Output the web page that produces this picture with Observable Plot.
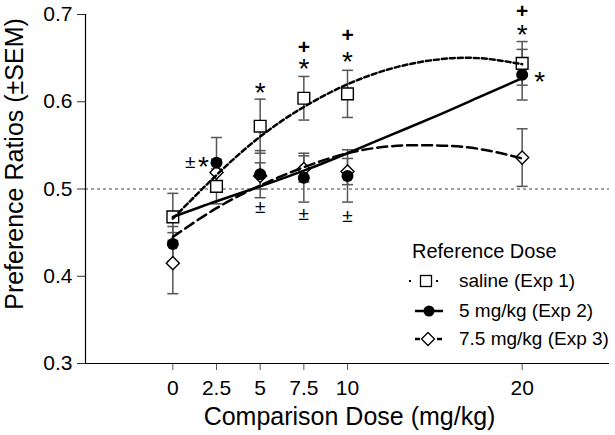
<!DOCTYPE html>
<html>
<head>
<meta charset="utf-8">
<script src="https://cdn.jsdelivr.net/npm/d3@7"></script>
<script src="https://cdn.jsdelivr.net/npm/@observablehq/plot@0.6"></script>
<style>
  body { margin: 0; background: #fff; font-family: "Liberation Sans", Arial, Helvetica, sans-serif; }
  #wrap { position: relative; width: 615px; height: 435px; overflow: hidden; }
  .lg { position: absolute; color: #000; white-space: nowrap; }
  .lgt { font-size: 20px; line-height: 20px; }
  .lgr { font-size: 19px; line-height: 19px; }
  .sw { position: absolute; }
</style>
</head>
<body>
<div id="wrap"></div>
<script>
// ---- data ----
const doses = [0, 2.5, 5, 7.5, 10, 20];
const salineMean = [0.468, 0.503, 0.572, 0.604, 0.609, 0.644];
const salineSem  = [0.027, 0.020, 0.031, 0.025, 0.027, 0.025];
const fiveMean   = [0.437, 0.530, 0.517, 0.513, 0.515, 0.631];
const fiveSem    = [0.020, 0.029, 0.027, 0.028, 0.030, 0.029];
const sevenMean  = [0.415, 0.519, 0.515, 0.523, 0.520, 0.536];
const sevenSem   = [0.035, 0.015, 0.015, 0.015, 0.015, 0.033];

// fitted curves
const fitDoses  = [0, 2.5, 5, 7.5, 10, 12.5, 15, 17.5, 20];
const salineFit = [0.466, 0.516, 0.560, 0.594, 0.620, 0.638, 0.648, 0.650, 0.643];
const fiveFit   = [0.468, 0.486, 0.503, 0.521, 0.541, 0.562, 0.583, 0.605, 0.627];
const sevenFit  = [0.445, 0.478, 0.504, 0.525, 0.541, 0.549, 0.550, 0.546, 0.535];

// significance annotations
const starX = [5, 7.5, 10, 20, 21.0, 1.75];
const starY = [0.618, 0.645, 0.654, 0.685, 0.631, 0.533];
const plusX = [7.5, 10, 20];
const plusY = [0.662, 0.676, 0.704];
const pmX = [1.0, 5, 7.5, 10];
const pmY = [0.531, 0.479, 0.471, 0.469];

const xTicks = [0, 2.5, 5, 7.5, 10, 20];
const yTicks = [0.3, 0.4, 0.5, 0.6, 0.7];
const seriesNames = ["saline (Exp 1)", "5 mg/kg (Exp 2)", "7.5 mg/kg (Exp 3)"];
const xLabel = "Comparison Dose (mg/kg)";
const yLabel = "Preference Ratios (±SEM)";
const legendTitle = "Reference Dose";

// ---- build tables ----
const means = [salineMean, fiveMean, sevenMean];
const sems = [salineSem, fiveSem, sevenSem];
const fits = [salineFit, fiveFit, sevenFit];
const points = seriesNames.flatMap((s, k) => doses.map((d, i) => ({
  series: s, dose: d, mean: means[k][i], lo: means[k][i] - sems[k][i], hi: means[k][i] + sems[k][i]
})));
const fitRows = seriesNames.flatMap((s, k) => fitDoses.map((d, i) => ({series: s, dose: d, v: fits[k][i]})));
const stars = starX.map((x, i) => ({x, y: starY[i]}));
const pluses = plusX.map((x, i) => ({x, y: plusY[i]}));
const pms = pmX.map((x, i) => ({x, y: pmY[i]}));

const capSymbol = {draw(ctx, size) { const r = Math.sqrt(size / Math.PI); ctx.moveTo(-r, 0); ctx.lineTo(r, 0); }};
const bySeries = s => points.filter(p => p.series === s);
const fitOf = s => fitRows.filter(p => p.series === s);
const font = "Liberation Sans, Arial, Helvetica, sans-serif";

const chart = Plot.plot({
  width: 615, height: 435,
  marginLeft: 85, marginRight: 6, marginTop: 14, marginBottom: 72,
  style: {fontFamily: font, color: "#000", background: "#fff"},
  x: {domain: [-5, 25]},
  y: {domain: [0.3, 0.7]},
  marks: [
    Plot.ruleY([0.5], {stroke: "#444", strokeWidth: 1, strokeDasharray: "3,3"}),
    Plot.axisY({ticks: yTicks, tickSize: 8, tickPadding: 5, fontSize: 21, label: null, tickFormat: d3.format(".1f"), stroke: "#333"}),
    Plot.axisX({ticks: xTicks, tickSize: 7, tickPadding: 10, fontSize: 21, label: null, tickFormat: d => String(d), stroke: "#555"}),
    Plot.ruleX([-5], {stroke: "#000", strokeWidth: 1.2}),
    Plot.ruleY([0.3], {stroke: "#000", strokeWidth: 1.2}),
    // error bars
    Plot.ruleX(points, {x: "dose", y1: "lo", y2: "hi", stroke: "#555", strokeWidth: 1.5}),
    Plot.dot(points, {x: "dose", y: "hi", symbol: capSymbol, r: 5.5, fill: "none", stroke: "#555", strokeWidth: 1.5}),
    Plot.dot(points, {x: "dose", y: "lo", symbol: capSymbol, r: 5.5, fill: "none", stroke: "#555", strokeWidth: 1.5}),
    // markers
    Plot.dot(bySeries(seriesNames[2]), {x: "dose", y: "mean", symbol: "diamond2", r: 5.9, fill: "white", stroke: "#000", strokeWidth: 1.4}),
    Plot.dot(bySeries(seriesNames[1]), {x: "dose", y: "mean", symbol: "circle", r: 6, fill: "#000", stroke: "none"}),
    Plot.dot(bySeries(seriesNames[0]), {x: "dose", y: "mean", symbol: "square", r: 6.6, fill: "white", stroke: "#000", strokeWidth: 1.4}),
    // fitted curves
    Plot.line(fitOf(seriesNames[0]), {x: "dose", y: "v", curve: "natural", stroke: "#000", strokeWidth: 2.5, strokeDasharray: "5,3"}),
    Plot.line(fitOf(seriesNames[1]), {x: "dose", y: "v", curve: "natural", stroke: "#000", strokeWidth: 2.5}),
    Plot.line(fitOf(seriesNames[2]), {x: "dose", y: "v", curve: "natural", stroke: "#000", strokeWidth: 2.5, strokeDasharray: "10,5"}),
    // annotations
    Plot.text(stars, {x: "x", y: "y", text: () => "*", fontSize: 28, dy: 7, fill: "#000"}),
    Plot.text(pluses, {x: "x", y: "y", text: () => "+", fontSize: 21, fontWeight: "bold", fill: "#000"}),
    Plot.text(pms, {x: "x", y: "y", text: () => "±", fontSize: 19, fill: "#000"}),
    // axis titles
    Plot.text([xLabel], {text: d => d, frameAnchor: "bottom", textAnchor: "middle", lineAnchor: "middle", dx: 2, dy: 53, fontSize: 25, fill: "#000"}),
    Plot.text([yLabel], {text: d => d, frameAnchor: "left", textAnchor: "middle", lineAnchor: "middle", rotate: -90, dx: -71, dy: -25, fontSize: 25, fill: "#000"})
  ]
});

const wrap = document.getElementById("wrap");
wrap.appendChild(chart);

// ---- legend (overlay) ----
function addDiv(cls, text, left, top) {
  const d = document.createElement("div");
  d.className = "lg " + cls;
  d.textContent = text;
  d.style.left = left + "px";
  d.style.top = top + "px";
  wrap.appendChild(d);
}
addDiv("lgt", legendTitle, 412, 241);
const rowTops = [271, 301, 329];
const rowMid = [281, 311, 339];
seriesNames.forEach((s, i) => addDiv("lgr", s, 459, rowTops[i]));

const ns = "http://www.w3.org/2000/svg";
const sw = document.createElementNS(ns, "svg");
sw.setAttribute("class", "sw");
sw.setAttribute("width", 50); sw.setAttribute("height", 80);
sw.style.left = "402px"; sw.style.top = "270px";
const ox = 402, oy = 270;
function el(tag, attrs) { const e = document.createElementNS(ns, tag); for (const k in attrs) e.setAttribute(k, attrs[k]); sw.appendChild(e); return e; }
// saline swatch
el("line", {x1: 409 - ox, x2: 411 - ox, y1: rowMid[0] - oy, y2: rowMid[0] - oy, stroke: "#000", "stroke-width": 2});
el("line", {x1: 436 - ox, x2: 438 - ox, y1: rowMid[0] - oy, y2: rowMid[0] - oy, stroke: "#000", "stroke-width": 2});
el("rect", {x: 420.5 - ox, y: rowMid[0] - 5.5 - oy, width: 11, height: 11, fill: "white", stroke: "#000", "stroke-width": 1.3});
// 5 mg/kg swatch
el("line", {x1: 415 - ox, x2: 443 - ox, y1: rowMid[1] - oy, y2: rowMid[1] - oy, stroke: "#000", "stroke-width": 2.5});
el("circle", {cx: 429 - ox, cy: rowMid[1] - oy, r: 5.5, fill: "#000"});
// 7.5 mg/kg swatch
el("line", {x1: 415 - ox, x2: 420 - ox, y1: rowMid[2] - oy, y2: rowMid[2] - oy, stroke: "#000", "stroke-width": 2.5});
el("line", {x1: 437 - ox, x2: 442 - ox, y1: rowMid[2] - oy, y2: rowMid[2] - oy, stroke: "#000", "stroke-width": 2.5});
el("path", {d: `M${428 - ox},${rowMid[2] - 6.5 - oy} l6.5,6.5 l-6.5,6.5 l-6.5,-6.5 z`, fill: "white", stroke: "#000", "stroke-width": 1.3});
wrap.appendChild(sw);
</script>
</body>
</html>
